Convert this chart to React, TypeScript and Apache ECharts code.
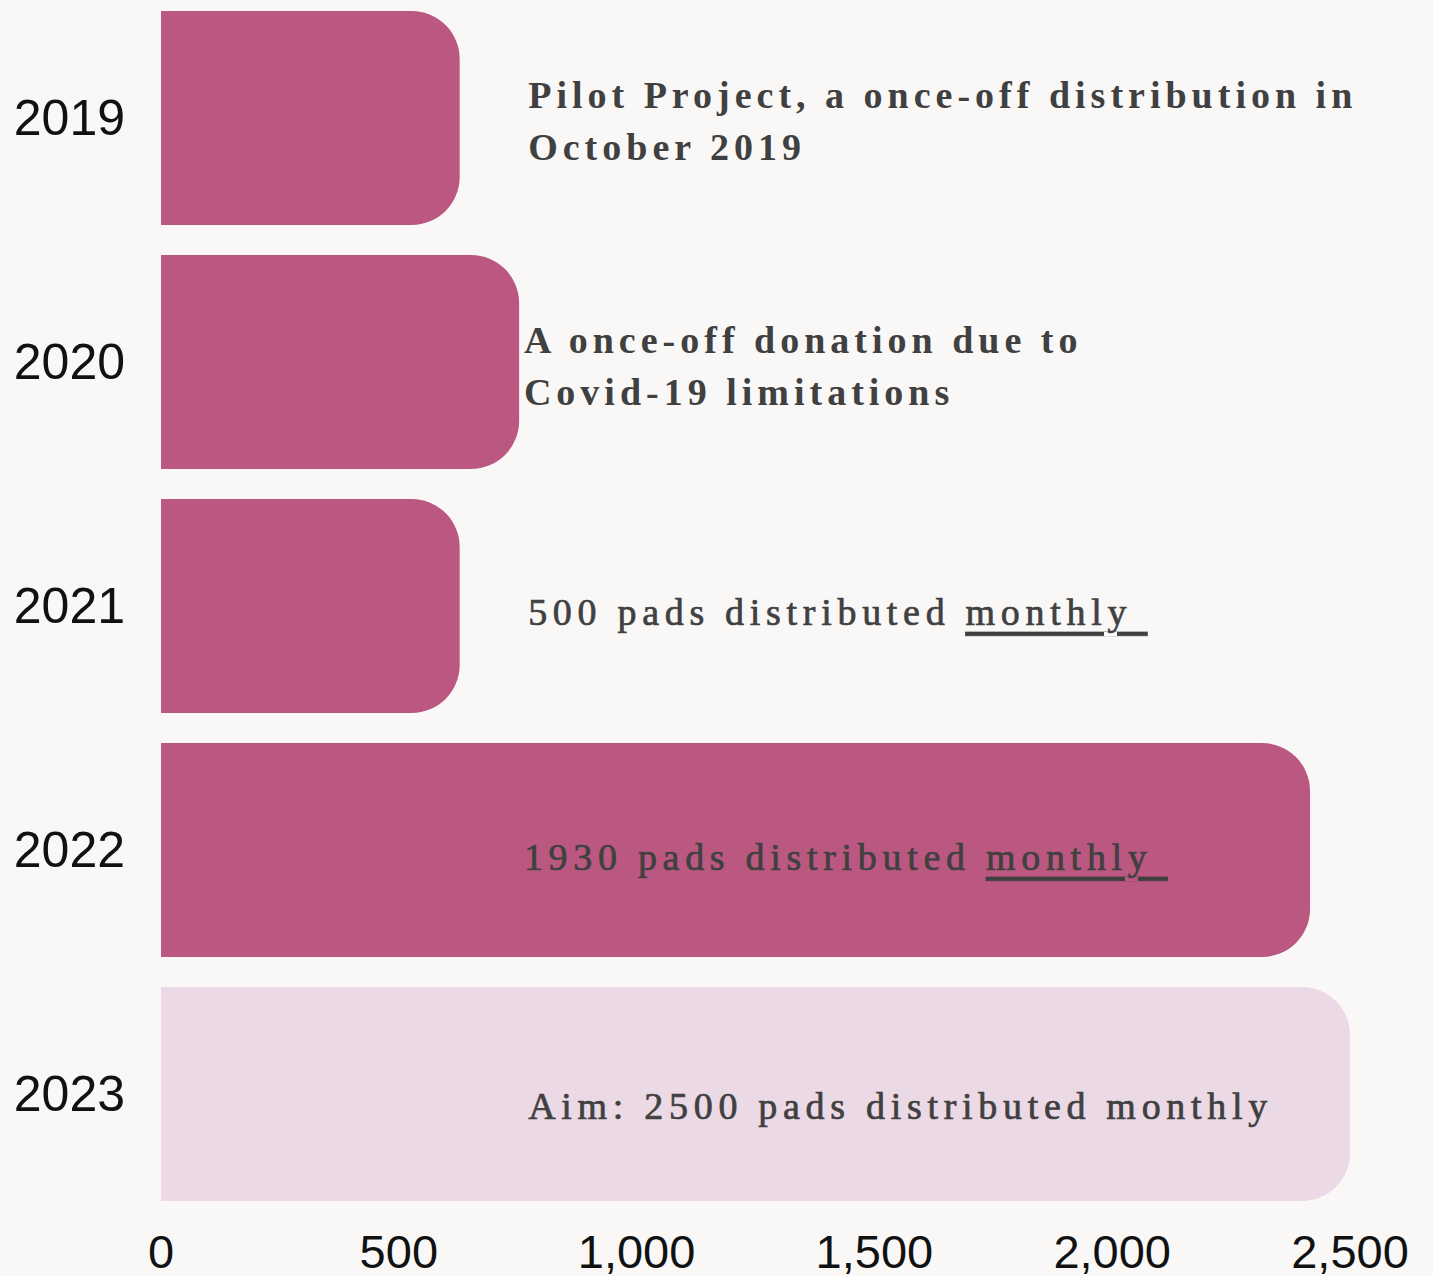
import React, { useEffect, useRef } from "react";
import * as echarts from "echarts";

// ---------- data ----------
const years = ["2019", "2020", "2021", "2022", "2023"];
const padsDistributed: (number | null)[] = [628, 753, 628, 2416, null];
const padsAim: (number | null)[] = [null, null, null, null, 2500];
const axisMin = 0;
const axisMax = 2500;
const axisStep = 500;
const notes = [
  "Pilot Project, a once-off distribution in\nOctober 2019",
  "A once-off donation due to\nCovid-19 limitations",
  "500 pads distributed monthly",
  "1930 pads distributed monthly",
  "Aim: 2500 pads distributed monthly",
];
const noteBold = [true, true, false, false, false];
const noteUnderlined = ["", "", "monthly", "monthly", ""];
const noteAt = [772, 763, 772, 763, 772];

// ---------- styling ----------
const BG = "#F9F8F7";
const DARK = "#BB5881";
const LIGHT = "#EBD9E5";
const NOTE_COLOR = "#404040";
const SERIF = "'Liberation Serif', serif";
const SERIF_U = "'Liberation Serif', Tinos, serif";
const LS_BOLD = 5;
const LS_NORMAL = 5.7;
const noteShiftY = [3, 4, 6, 7, 12];

// make echarts' text measuring aware of the letter spacing used for notes
let measureInstalled = false;
function installMeasure() {
  if (measureInstalled) return;
  measureInstalled = true;
  const api = (echarts as any).setPlatformAPI;
  if (!api) return;
  const cnv = document.createElement("canvas");
  const ctx = cnv.getContext("2d") as CanvasRenderingContext2D;
  api({
    measureText(text: string, font?: string) {
      ctx.font = font || "12px sans-serif";
      const m = ctx.measureText(text);
      let extra = 0;
      if (font && font.indexOf("Liberation Serif") >= 0) {
        extra = (/bold/.test(font) ? LS_BOLD : LS_NORMAL) * Array.from(text).length;
      }
      return {
        width: m.width + extra,
        actualBoundingBoxAscent: m.actualBoundingBoxAscent,
        actualBoundingBoxDescent: m.actualBoundingBoxDescent,
        actualBoundingBoxLeft: m.actualBoundingBoxLeft,
        actualBoundingBoxRight: m.actualBoundingBoxRight + extra,
        fontBoundingBoxAscent: (m as any).fontBoundingBoxAscent,
        fontBoundingBoxDescent: (m as any).fontBoundingBoxDescent,
      };
    },
  });
}

function richNote(i: number): string {
  const st = noteBold[i] ? "b" : "n";
  const u = noteUnderlined[i];
  return notes[i]
    .split("\n")
    .map((line) => {
      if (u && line.endsWith(u)) {
        const head = line.slice(0, line.length - u.length);
        return `{${st}|${head}}{u|${u}\u00a0}`;
      }
      return `{${st}|${line}}`;
    })
    .join("\n");
}

const css = `
#padchart text[style*="Liberation Serif"] { letter-spacing: ${LS_NORMAL}px; }
#padchart text[style*="Liberation Serif"][style*="bold"] { letter-spacing: ${LS_BOLD}px; }
#padchart text[style*="Tinos"] { text-decoration: underline; text-decoration-thickness: 4px; text-underline-offset: 4px; }
`;

export default function App() {
  const ref = useRef<HTMLDivElement>(null);

  useEffect(() => {
    installMeasure();
    if (!ref.current) return;
    const chart = echarts.init(ref.current, undefined, { renderer: "svg" });
    const noteStyle = { fontFamily: SERIF, fontSize: 38, color: NOTE_COLOR, lineHeight: 52 };
    const normalStyle = {
      ...noteStyle,
      fontWeight: "normal",
      textBorderColor: NOTE_COLOR,
      textBorderWidth: 0.7,
    };
    chart.setOption({
      animation: false,
      backgroundColor: BG,
      grid: { left: 161, right: 83, top: -4, bottom: 60, outerBoundsMode: "none", containLabel: false },
      xAxis: {
        type: "value",
        min: axisMin,
        max: axisMax,
        interval: axisStep,
        splitLine: { show: false },
        axisLine: { show: false },
        axisTick: { show: false },
        axisLabel: {
          margin: 16,
          lineHeight: 38,
          fontFamily: "'Liberation Sans', Arial, sans-serif",
          fontSize: 47,
          color: "#111111",
          formatter: (v: number) => v.toLocaleString("en-US"),
        },
      },
      yAxis: {
        type: "category",
        data: years,
        inverse: true,
        axisLine: { show: false },
        axisTick: { show: false },
        splitLine: { show: false },
        axisLabel: {
          margin: 36,
          fontFamily: "'Liberation Sans', Arial, sans-serif",
          fontSize: 50,
          color: "#111111",
        },
      },
      series: [
        {
          name: "Pads distributed",
          type: "bar",
          data: padsDistributed,
          barWidth: 214,
          barGap: "-100%",
          itemStyle: { color: DARK, borderRadius: [0, 48, 48, 0] },
          silent: true,
        },
        {
          name: "Aim",
          type: "bar",
          data: padsAim,
          barWidth: 214,
          barGap: "-100%",
          itemStyle: { color: LIGHT, borderRadius: [0, 48, 48, 0] },
          silent: true,
        },
        {
          name: "Notes",
          type: "scatter",
          z: 5,
          silent: true,
          symbolSize: 0,
          data: years.map((y, i) => ({
            value: [noteAt[i], y],
            label: { offset: [0, noteShiftY[i]] },
          })),
          label: {
            show: true,
            position: "right",
            distance: 0,
            color: NOTE_COLOR,
            opacity: 1,
            formatter: (p: any) => richNote(p.dataIndex),
            rich: {
              b: { ...noteStyle, fontWeight: "bold" },
              n: normalStyle,
              u: { ...normalStyle, fontFamily: SERIF_U },
            },
          },
        },
      ],
    });
    return () => chart.dispose();
  }, []);

  return (
    <>
      <style>{css}</style>
      <div
        id="padchart"
        ref={ref}
        style={{ position: "absolute", left: 0, top: 0, width: 1433, height: 1276, background: BG }}
      />
    </>
  );
}
